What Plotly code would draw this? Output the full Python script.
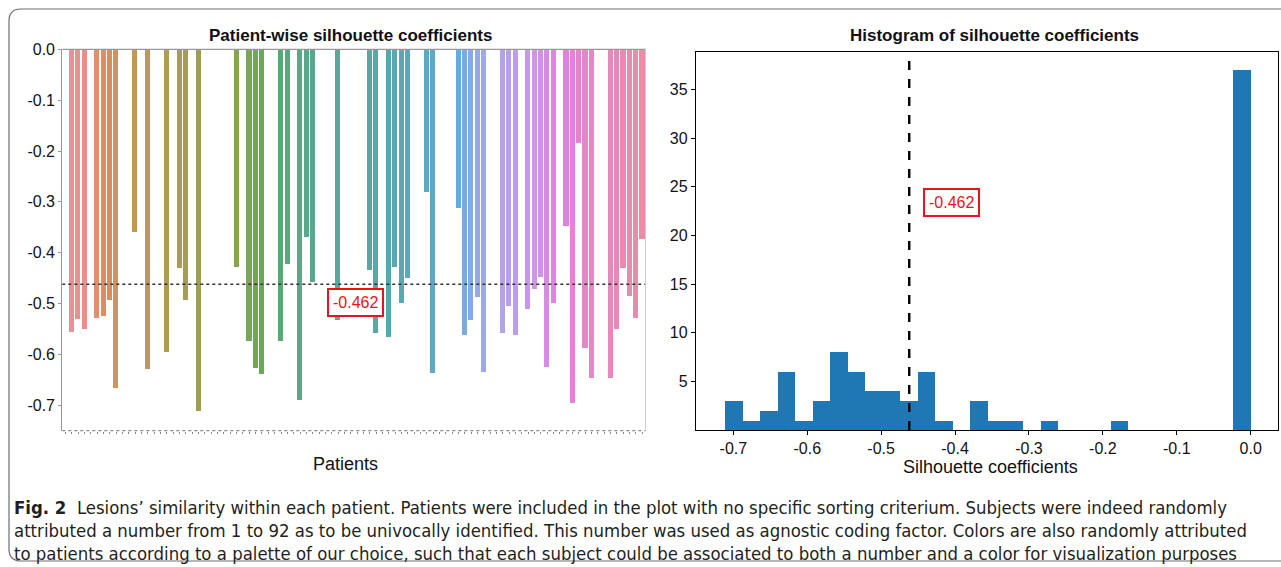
import colorsys
import math
import numpy as np
import plotly.graph_objects as go

# ---------------- data ----------------
patients = list(range(1, 93))
silhouette = [
    0.0, -0.556, -0.531, -0.551, 0.0, -0.528, -0.526, -0.494, -0.667, 0.0,
    0.0, -0.359, 0.0, -0.629, 0.0, 0.0, -0.595, 0.0, -0.430, -0.494,
    0.0, -0.711, 0.0, 0.0, 0.0, 0.0, 0.0, -0.428, 0.0, -0.574,
    -0.628, -0.639, 0.0, 0.0, -0.575, -0.423, 0.0, -0.690, -0.369, -0.459,
    0.0, 0.0, 0.0, -0.533, 0.0, 0.0, 0.0, 0.0, -0.435, -0.559,
    0.0, -0.566, -0.428, -0.500, -0.451, 0.0, 0.0, -0.281, -0.638, 0.0,
    0.0, 0.0, -0.313, -0.562, -0.533, -0.487, -0.635, 0.0, 0.0, -0.559,
    -0.505, -0.562, 0.0, -0.511, -0.471, -0.448, -0.625, -0.499, 0.0, -0.349,
    -0.697, -0.184, -0.587, -0.647, 0.0, 0.0, -0.646, -0.551, -0.431, -0.486,
    -0.528, -0.374,
]
mean_value = -0.462
mean_label = "-0.462"
hist_bins = 30
left_yticks = [0.0, -0.1, -0.2, -0.3, -0.4, -0.5, -0.6, -0.7]
right_xticks = [-0.7, -0.6, -0.5, -0.4, -0.3, -0.2, -0.1, 0.0]
right_yticks = [5, 10, 15, 20, 25, 30, 35]

caption_lines = [
    "<b>Fig. 2</b>  Lesions’ similarity within each patient. Patients were included in the plot with no specific sorting criterium. Subjects were indeed randomly",
    "attributed a number from 1 to 92 as to be univocally identified. This number was used as agnostic coding factor. Colors are also randomly attributed",
    "to patients according to a palette of our choice, such that each subject could be associated to both a number and a color for visualization purposes",
]

# ---------------- husl palette (seaborn style) ----------------
_M = [[3.240969941904521, -1.537383177570093, -0.498610760293],
      [-0.96924363628087, 1.87596750150772, 0.041555057407175],
      [0.055630079696993, -0.20397695888897, 1.056971514242878]]
_REF_Y = 1.0
_REF_U = 0.19783000664283
_REF_V = 0.46831999493879
_KAPPA = 903.2962962
_EPS = 0.0088564516


def _bounds(L):
    sub1 = ((L + 16.0) ** 3) / 1560896.0
    sub2 = sub1 if sub1 > _EPS else L / _KAPPA
    out = []
    for m1, m2, m3 in _M:
        for t in (0, 1):
            top1 = (284517.0 * m1 - 94839.0 * m3) * sub2
            top2 = (838422.0 * m3 + 769860.0 * m2 + 731718.0 * m1) * L * sub2 - 769860.0 * t * L
            bottom = (632260.0 * m3 - 126452.0 * m2) * sub2 + 126452.0 * t
            out.append((top1 / bottom, top2 / bottom))
    return out


def _max_chroma(L, H):
    hrad = H / 360.0 * math.pi * 2.0
    lens = []
    for m1, b1 in _bounds(L):
        d = math.sin(hrad) - m1 * math.cos(hrad)
        if d == 0:
            continue
        length = b1 / d
        if length > 0:
            lens.append(length)
    return min(lens)


def _from_linear(c):
    if c <= 0.0031308:
        return 12.92 * c
    return 1.055 * (c ** (1 / 2.4)) - 0.055


def husl_to_rgb(h, s, l):
    if l > 99.9999:
        L, C = 100.0, 0.0
    elif l < 1e-8:
        L, C = 0.0, 0.0
    else:
        L = l
        C = _max_chroma(l, h) / 100.0 * s
    hr = math.radians(h)
    U, V = C * math.cos(hr), C * math.sin(hr)
    if L == 0:
        return (0.0, 0.0, 0.0)
    varY = _REF_Y * (((L + 16) / 116) ** 3) if L > 8 else _REF_Y * L / _KAPPA
    varU = U / (13 * L) + _REF_U
    varV = V / (13 * L) + _REF_V
    Y = varY * _REF_Y
    X = -(9 * Y * varU) / ((varU - 4) * varV - varU * varV)
    Z = (9 * Y - 15 * varV * Y - varV * X) / (3 * varV)
    rgb = []
    for row in _M:
        c = row[0] * X + row[1] * Y + row[2] * Z
        rgb.append(min(max(_from_linear(c), 0.0), 1.0))
    return tuple(rgb)


def husl_palette(n, h=0.01, s=0.9, l=0.65, desat=0.75, lighten=0.1):
    hues = np.linspace(0, 1, n + 1)[:-1]
    hues = ((hues + h) % 1) * 359
    cols = []
    for hu in hues:
        r, g, b = husl_to_rgb(hu, s * 99, l * 99)
        hh, ll, ss = colorsys.rgb_to_hls(r, g, b)
        r, g, b = colorsys.hls_to_rgb(hh, ll, ss * desat)
        r, g, b = [c + (1 - c) * lighten for c in (r, g, b)]
        cols.append(f"rgb({int(round(r*255))},{int(round(g*255))},{int(round(b*255))})")
    return cols


bar_colors = husl_palette(len(patients))

# ---------------- figure ----------------
W, H = 1281, 567


def px(x):
    return x / W


def py(y):
    return 1 - y / H


FONT = "Liberation Sans, Arial, Helvetica, sans-serif"

fig = go.Figure()

xpos = list(range(len(patients)))
fig.add_trace(go.Bar(
    x=xpos, y=silhouette, marker=dict(color=bar_colors, line=dict(width=0)),
    width=0.8, xaxis="x", yaxis="y", showlegend=False,
    customdata=patients, hovertemplate="Patient %{customdata}: %{y}<extra></extra>",
))

counts, edges = np.histogram(np.array(silhouette), bins=hist_bins)
centers = (edges[:-1] + edges[1:]) / 2
bw = edges[1] - edges[0]
fig.add_trace(go.Bar(
    x=centers, y=counts, width=bw, marker=dict(color="#1f77b4", line=dict(width=0)),
    xaxis="x2", yaxis="y2", showlegend=False,
))

# Mean lines
fig.add_shape(type="line", xref="x domain", yref="y", x0=0, x1=1, y0=mean_value, y1=mean_value,
              line=dict(color="#333333", width=1.6, dash="dot"))
fig.add_shape(type="line", xref="x2", yref="y2 domain", x0=mean_value, x1=mean_value, y0=0, y1=1,
              line=dict(color="black", width=2.4, dash="dash"))

# Left plot custom bottom dotted spine
fig.add_shape(type="line", xref="x domain", yref="y domain", x0=0, x1=1, y0=0, y1=0,
              line=dict(color="#888888", width=1.2, dash="dot"))

fig.add_annotation(x=45.8, y=-0.497, xref="x", yref="y", text=mean_label, showarrow=False,
                   xanchor="center", yanchor="middle",
                   font=dict(family=FONT, size=16, color="#e8141b"), bgcolor="white",
                   bordercolor="#e8141b", borderwidth=2, borderpad=4)
fig.add_annotation(x=-0.4055, y=23.4, xref="x2", yref="y2", text=mean_label, showarrow=False,
                   xanchor="center", yanchor="middle",
                   font=dict(family=FONT, size=16, color="#e8141b"), bgcolor="white",
                   bordercolor="#e8141b", borderwidth=2, borderpad=4)


def label(x, y, text, size, **kw):
    fig.add_annotation(x=px(x), y=py(y), xref="paper", yref="paper", text=text,
                       showarrow=False, xanchor=kw.get("xanchor", "center"), yanchor="middle",
                       font=dict(family=kw.get("family", FONT), size=size, color=kw.get("color", "#111111")))


label(350, 35, "<b>Patient-wise silhouette coefficients</b>", 17)
label(994, 35, "<b>Histogram of silhouette coefficients</b>", 17)
label(345, 464, "Patients", 18)
label(990, 467, "Silhouette coefficients", 18)

# Caption
cap_y = [507, 530, 553]
for line, yy in zip(caption_lines, cap_y):
    label(12, yy, line, 18.4, xanchor="left",
          family="Liberation Sans Narrow, DejaVu Sans Condensed, Arial Narrow, sans-serif",
          color="#231f20")

# Outer rounded border
x0b, y0b, x1b, y1b = px(9), py(9), px(1300), py(561)
rx = 12 / W
ry = 12 / H
path = (f"M {x0b+rx},{y0b} L {x1b},{y0b} L {x1b},{y1b} L {x0b+rx},{y1b} "
        f"Q {x0b},{y1b} {x0b},{y1b+ry} L {x0b},{y0b-ry} Q {x0b},{y0b} {x0b+rx},{y0b} Z")
fig.add_shape(type="path", xref="paper", yref="paper", path=path,
              line=dict(color="#6d6e71", width=1.2), fillcolor="rgba(0,0,0,0)", layer="below")

tick_font = dict(family=FONT, size=16, color="#111111")

fig.update_layout(
    width=W, height=H, autosize=False,
    margin=dict(l=0, r=0, t=0, b=0, pad=0),
    paper_bgcolor="white", plot_bgcolor="white",
    bargap=0,
    xaxis=dict(domain=[px(62.3), px(645.5)], range=[-0.5, len(patients) - 0.5],
               showgrid=False, zeroline=False, showline=False, showticklabels=False,
               ticks="outside", ticklen=2, tickcolor="#888888", tickvals=xpos, anchor="y",
               automargin=False),
    yaxis=dict(domain=[py(430.7), py(49.3)], range=[-0.75, 0], tickvals=left_yticks,
               ticktext=[f"{v:.1f}" for v in left_yticks], tickfont=tick_font,
               showgrid=False, zeroline=False, showline=True, linecolor="#999999", linewidth=1.2,
               mirror=False, ticks="outside", ticklen=3, tickcolor="#999999", anchor="x",
               automargin=False),
    xaxis2=dict(domain=[px(696), px(1277.7)], range=[-0.7505, 0.0365], tickvals=right_xticks,
                ticktext=[f"{v:.1f}" for v in right_xticks], tickfont=tick_font,
                showgrid=False, zeroline=False, showline=True, linecolor="black", linewidth=1.3,
                mirror=True, ticks="outside", ticklen=4, tickcolor="black", anchor="y2",
                automargin=False),
    yaxis2=dict(domain=[py(430), py(51.7)], range=[0, 38.88], tickvals=right_yticks,
                tickfont=tick_font, showgrid=False, zeroline=False, showline=True,
                linecolor="black", linewidth=1.3, mirror=True, ticks="outside", ticklen=4,
                tickcolor="black", anchor="x2", automargin=False),
)

# top and right lines of the left plot
fig.add_shape(type="line", xref="x domain", yref="y domain", x0=0, x1=1, y0=1, y1=1,
              line=dict(color="#999999", width=1.2))
fig.add_shape(type="line", xref="x domain", yref="y domain", x0=1, x1=1, y0=0, y1=1,
              line=dict(color="#cccccc", width=1.0))

fig.write_html("out.html", config={"displayModeBar": False},
               post_script="document.body.style.margin='0px'; document.body.style.overflow='hidden';")
